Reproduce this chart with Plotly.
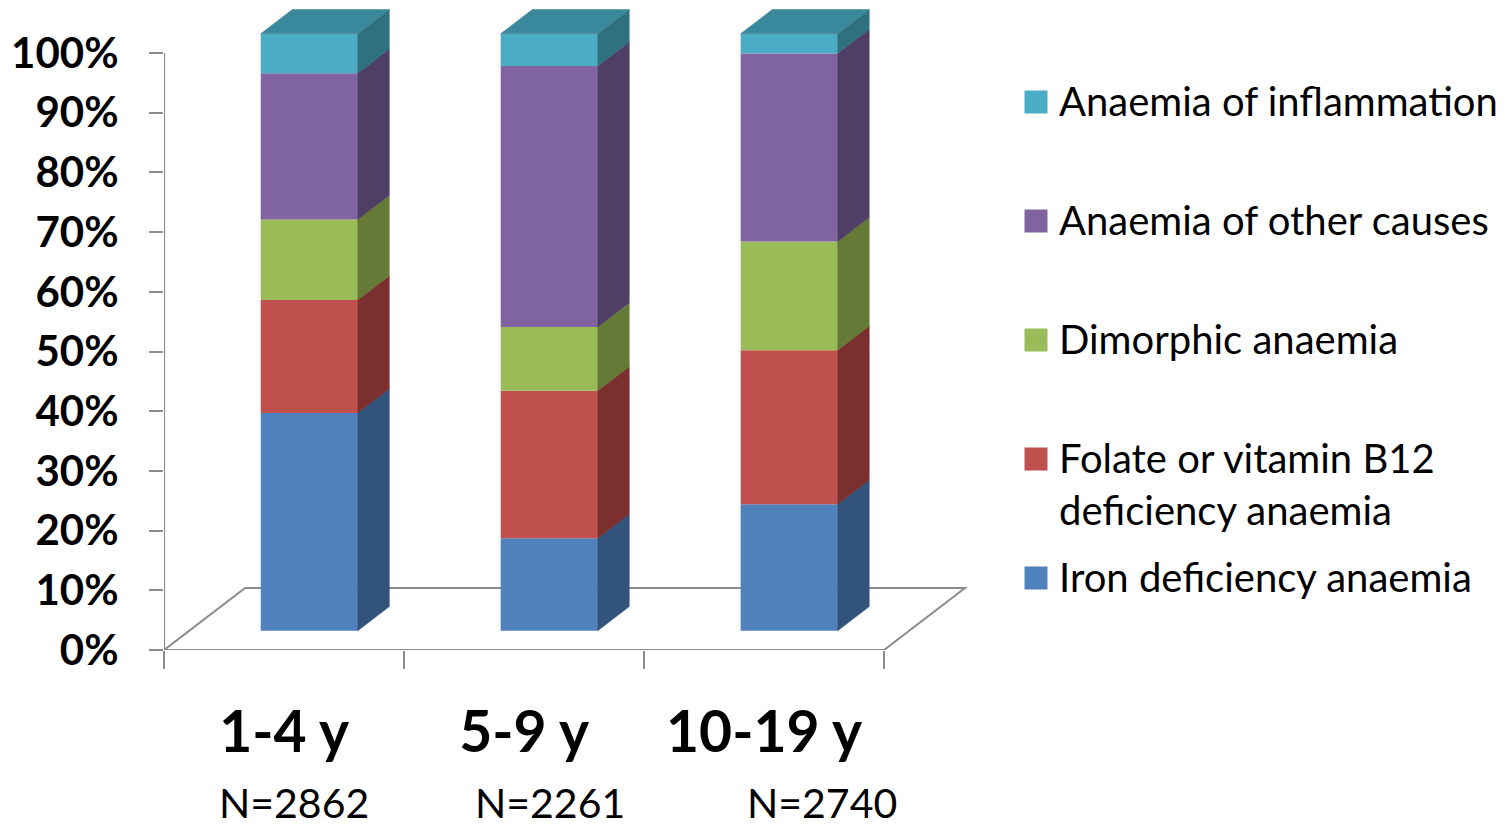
import plotly.graph_objects as go

# ---- data -------------------------------------------------------------
age_groups = ["1-4 y", "5-9 y", "10-19 y"]
sample_sizes = [2862, 2261, 2740]

series_names = [
    "Iron deficiency anaemia",
    "Folate or vitamin B12<br>deficiency anaemia",
    "Dimorphic anaemia",
    "Anaemia of other causes",
    "Anaemia of inflammation",
]
iron_deficiency = [36.5, 15.5, 21.2]
folate_b12 = [18.9, 24.7, 25.8]
dimorphic = [13.5, 10.7, 18.2]
other_causes = [24.5, 43.7, 31.5]
inflammation = [6.6, 5.4, 3.3]

y_ticks = [0, 10, 20, 30, 40, 50, 60, 70, 80, 90, 100]
y_tick_labels = [f"{v}%" for v in y_ticks]

# ---- styling ----------------------------------------------------------
front_colors = ["#4F81BD", "#C0504D", "#9BBB59", "#8064A2", "#4BACC6"]
side_colors = ["#31537C", "#7B2F2E", "#667A38", "#4F3F66", "#30717F"]
top_color = "#3A889B"
axis_grey = "#8C8C8C"
FONT = "Lato"

W, H = 1512, 828
PX_PER_CAT = 240.0          # horizontal pixels per category
PX_PER_PCT = 5.97           # vertical pixels per percentage point
PLOT_L, PLOT_R, PLOT_B = 164, 1000, 650

# oblique projection of depth: one unit of depth moves right / up
DX = 81.0 / PX_PER_CAT
DY = 62.0 / PX_PER_PCT
FRONT, BACK = 0.31, 0.70    # depth of the bar front and back faces
HALF = 0.202                # half bar width (category units)

x_min = -0.5
x_max = x_min + (PLOT_R - PLOT_L) / PX_PER_CAT
y_max = PLOT_B / PX_PER_PCT

series = [iron_deficiency, folate_b12, dimorphic, other_causes, inflammation]
n_cat = len(age_groups)

fig = go.Figure()

bases = [0.0] * n_cat
for k, vals in enumerate(series):
    # front faces
    fig.add_trace(go.Bar(
        x=[i + FRONT * DX for i in range(n_cat)],
        y=vals,
        base=[b + FRONT * DY for b in bases],
        width=2 * HALF,
        marker=dict(color=front_colors[k], line=dict(width=0)),
        name=series_names[k].replace("<br>", " "),
        showlegend=False,
        hoverinfo="skip",
    ))
    # right-hand side faces
    sx, sy = [], []
    for i in range(n_cat):
        xr = i + HALF
        b, t = bases[i], bases[i] + vals[i]
        sx += [xr + FRONT * DX, xr + BACK * DX, xr + BACK * DX, xr + FRONT * DX, xr + FRONT * DX, None]
        sy += [b + FRONT * DY, b + BACK * DY, t + BACK * DY, t + FRONT * DY, b + FRONT * DY, None]
    fig.add_trace(go.Scatter(
        x=sx, y=sy, mode="lines", fill="toself",
        fillcolor=side_colors[k], line=dict(color=side_colors[k], width=0.6),
        showlegend=False, hoverinfo="skip",
    ))
    bases = [bases[i] + vals[i] for i in range(n_cat)]

# top faces of the stacks
tx, ty = [], []
for i in range(n_cat):
    xl, xr, t = i - HALF, i + HALF, bases[i]
    tx += [xl + FRONT * DX, xr + FRONT * DX, xr + BACK * DX, xl + BACK * DX, xl + FRONT * DX, None]
    ty += [t + FRONT * DY, t + FRONT * DY, t + BACK * DY, t + BACK * DY, t + FRONT * DY, None]
fig.add_trace(go.Scatter(
    x=tx, y=ty, mode="lines", fill="toself",
    fillcolor=top_color, line=dict(color=top_color, width=0.6),
    showlegend=False, hoverinfo="skip",
))

# legend swatches and labels on their own pixel-scaled axes
LEG_TOP, LEG_STEP, LEG_X = 101, 119, 1036
LEG_FONT = 40
for j, k in enumerate(reversed(range(len(series)))):
    yy = LEG_TOP + j * LEG_STEP
    fig.add_trace(go.Scatter(
        x=[LEG_X], y=[yy + 1], mode="markers",
        marker=dict(symbol="square", size=23, color=front_colors[k], line=dict(width=0)),
        xaxis="x3", yaxis="y3", showlegend=False, hoverinfo="skip",
    ))
    fig.add_annotation(
        x=LEG_X + 21, y=yy - 0.65 * LEG_FONT, xref="x3", yref="y3",
        text=series_names[k], showarrow=False, xanchor="left", yanchor="top",
        align="left", font=dict(family=FONT, size=LEG_FONT, color="black"),
    )

# sample-size captions under each age group
n_label_shift = [0.04, 0.11, 0.24]
for i, n in enumerate(sample_sizes):
    fig.add_annotation(
        x=i + n_label_shift[i], y=1 - 802 / H, xref="x", yref="paper",
        text=f"N={n}", showarrow=False, xanchor="center", yanchor="middle",
        font=dict(family=FONT, size=41, color="black"),
    )

# floor and vertical axis line
floor_path = (f"M {x_min},0 L {n_cat - 0.5},0 L {n_cat - 0.5 + DX},{DY} "
              f"L {x_min + DX},{DY} Z")
fig.add_shape(type="path", path=floor_path, xref="x", yref="y", layer="below",
              line=dict(color=axis_grey, width=2))
fig.add_shape(type="line", x0=x_min, x1=x_min, y0=0, y1=100, xref="x", yref="y",
              layer="below", line=dict(color=axis_grey, width=2))

fig.update_layout(
    width=W, height=H,
    margin=dict(l=0, r=0, t=0, b=0, autoexpand=False),
    paper_bgcolor="white", plot_bgcolor="rgba(0,0,0,0)",
    barmode="overlay",
    showlegend=False,
    font=dict(family=FONT, color="black"),
    xaxis=dict(
        domain=[PLOT_L / W, PLOT_R / W], range=[x_min - 0.0005, x_max],
        tickvals=list(range(n_cat)), ticktext=age_groups,
        tickfont=dict(family=FONT, size=57, color="black", weight="bold"),
        ticks="", showgrid=False, zeroline=False, showline=False,
        ticklabelstandoff=44, automargin=False,
        minor=dict(tick0=-0.5, dtick=1, ticks="outside", ticklen=18,
                   tickwidth=2, tickcolor=axis_grey, showgrid=False),
        fixedrange=True,
    ),
    yaxis=dict(
        domain=[(H - PLOT_B) / H, 1], range=[0, y_max],
        tickvals=y_ticks, ticktext=y_tick_labels,
        tickfont=dict(family=FONT, size=42, color="black", weight="bold"),
        ticks="outside", ticklen=14, tickwidth=2, tickcolor=axis_grey,
        ticklabelstandoff=22, automargin=False,
        showgrid=False, zeroline=False, showline=False, fixedrange=True,
    ),
    xaxis3=dict(domain=[PLOT_R / W, 1], range=[PLOT_R, W], visible=False,
                anchor="y3", fixedrange=True, automargin=False),
    yaxis3=dict(domain=[0, 1], range=[H, 0], visible=False,
                anchor="x3", fixedrange=True, automargin=False),
)

fig.write_html("out.html")
